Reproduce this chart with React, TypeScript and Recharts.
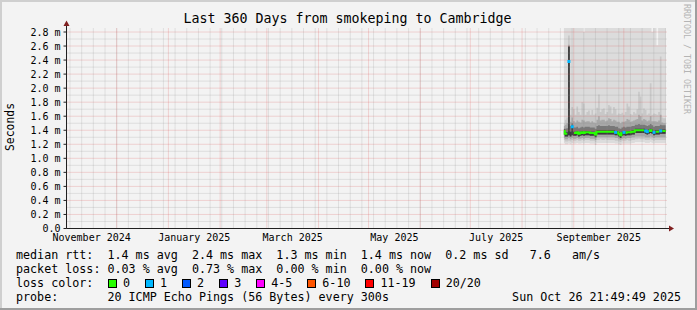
import { ComposedChart, Area, Line, Scatter, XAxis, YAxis, ReferenceLine } from 'recharts';

const DAY = 86400000;
const END = Date.UTC(2025, 9, 26, 21, 49, 49);
const START = END - 360 * DAY;
const Y_MAX = 2.857;
const FONT = "'DejaVu Sans Mono', monospace";

const X_LABELS = ['November 2024', 'January 2025', 'March 2025', 'May 2025', 'July 2025', 'September 2025'];
const X_LABEL_MONTHS = [[2024, 10], [2025, 0], [2025, 2], [2025, 4], [2025, 6], [2025, 8]];
const Y_TICKS = [0, 0.2, 0.4, 0.6, 0.8, 1.0, 1.2, 1.4, 1.6, 1.8, 2.0, 2.2, 2.4, 2.6, 2.8];

// first consolidated smokeping sample (one bin per day)
const FIRST_BIN = Date.UTC(2025, 7, 26, 2, 40);

const median = [
  1.39, 1.35, 1.35, 2.38, 1.35, 1.45, 1.36, 1.36, 1.37, 1.35,
  1.36, 1.37, 1.36, 1.37, 1.37, 1.37, 1.36, 1.36, 1.36, 1.34,
  1.38, 1.38, 1.38, 1.38, 1.38, 1.38, 1.38, 1.38, 1.38, 1.38,
  1.38, 1.37, 1.37, 1.35, 1.33, 1.36, 1.37, 1.36, 1.37, 1.37,
  1.37, 1.38, 1.38, 1.40, 1.40, 1.40, 1.40, 1.40, 1.40, 1.39,
  1.38, 1.39, 1.40, 1.39, 1.37, 1.38, 1.38, 1.38, 1.39, 1.39,
  1.39, 1.39,
];
const loss = [
  0, 0, 0, 1, 0, 1, 0, 0, 0, 0,
  0, 0, 0, 0, 0, 0, 0, 0, 0, 0,
  0, 0, 0, 0, 0, 0, 0, 0, 0, 0,
  0, 1, 0, 0, 0, 0, 1, 0, 0, 0,
  0, 0, 0, 0, 0, 0, 0, 0, 0, 1,
  1, 0, 0, 0, 1, 0, 0, 0, 1, 0,
  0, 0,
];
const smokeMax = [
  2.95, 2.95, 2.95, 2.95, 2.95, 2.95, 2.95, 2.95, 2.95, 2.95,
  2.95, 2.95, 2.80, 2.95, 2.95, 2.95, 2.95, 2.95, 2.95, 2.95,
  2.95, 2.95, 2.95, 2.95, 2.95, 2.95, 2.95, 2.95, 2.95, 2.95,
  2.95, 2.95, 2.95, 2.95, 2.95, 2.95, 2.95, 2.95, 2.95, 2.95,
  2.95, 2.95, 2.95, 2.95, 2.95, 2.95, 2.95, 2.95, 2.95, 2.95,
  2.95, 2.95, 2.95, 2.80, 2.95, 2.95, 2.61, 2.95, 2.95, 2.95,
  2.95, 2.95,
];
const smokeMin = [
  1.22, 1.20, 1.20, 1.21, 1.20, 1.22, 1.21, 1.21, 1.22, 1.21,
  1.21, 1.22, 1.21, 1.22, 1.22, 1.22, 1.21, 1.21, 1.21, 1.19,
  1.22, 1.22, 1.22, 1.22, 1.22, 1.22, 1.22, 1.22, 1.22, 1.22,
  1.22, 1.21, 1.21, 1.20, 1.19, 1.21, 1.21, 1.21, 1.21, 1.21,
  1.21, 1.22, 1.22, 1.23, 1.23, 1.23, 1.23, 1.23, 1.23, 1.22,
  1.22, 1.22, 1.23, 1.22, 1.21, 1.22, 1.22, 1.22, 1.22, 1.22,
  1.22, 1.22,
];
const smokeLowOuter = [
  1.26, 1.24, 1.24, 1.25, 1.24, 1.26, 1.25, 1.25, 1.26, 1.25,
  1.25, 1.26, 1.25, 1.26, 1.26, 1.26, 1.25, 1.25, 1.25, 1.23,
  1.26, 1.26, 1.27, 1.26, 1.26, 1.27, 1.26, 1.26, 1.26, 1.26,
  1.26, 1.25, 1.25, 1.24, 1.23, 1.25, 1.25, 1.25, 1.26, 1.25,
  1.25, 1.26, 1.26, 1.27, 1.27, 1.28, 1.27, 1.27, 1.27, 1.26,
  1.26, 1.26, 1.27, 1.26, 1.25, 1.26, 1.26, 1.26, 1.26, 1.26,
  1.26, 1.26,
];
const smokeLowMid = [
  1.29, 1.27, 1.27, 1.29, 1.27, 1.29, 1.28, 1.28, 1.29, 1.28,
  1.28, 1.29, 1.28, 1.29, 1.29, 1.29, 1.28, 1.28, 1.28, 1.26,
  1.30, 1.30, 1.30, 1.30, 1.30, 1.30, 1.30, 1.30, 1.30, 1.30,
  1.30, 1.29, 1.29, 1.27, 1.26, 1.28, 1.29, 1.28, 1.29, 1.29,
  1.29, 1.30, 1.30, 1.31, 1.31, 1.31, 1.31, 1.31, 1.31, 1.30,
  1.30, 1.30, 1.31, 1.30, 1.29, 1.30, 1.30, 1.30, 1.30, 1.30,
  1.30, 1.30,
];
const smokeLowInner = [
  1.34, 1.31, 1.31, 1.33, 1.31, 1.33, 1.32, 1.32, 1.33, 1.31,
  1.32, 1.33, 1.32, 1.33, 1.33, 1.33, 1.32, 1.32, 1.32, 1.30,
  1.34, 1.34, 1.34, 1.34, 1.34, 1.34, 1.34, 1.34, 1.34, 1.34,
  1.34, 1.33, 1.33, 1.31, 1.29, 1.32, 1.33, 1.32, 1.33, 1.33,
  1.33, 1.34, 1.34, 1.36, 1.36, 1.36, 1.36, 1.36, 1.36, 1.35,
  1.34, 1.35, 1.36, 1.35, 1.33, 1.34, 1.34, 1.34, 1.35, 1.35,
  1.35, 1.35,
];
const smokeCoreHigh = [
  1.41, 1.37, 1.37, 2.59, 1.38, 1.47, 1.38, 1.38, 1.39, 1.37,
  1.38, 1.39, 1.38, 1.39, 1.39, 1.39, 1.38, 1.38, 1.38, 1.36,
  1.40, 1.40, 1.40, 1.40, 1.40, 1.40, 1.40, 1.40, 1.40, 1.40,
  1.40, 1.39, 1.39, 1.37, 1.35, 1.38, 1.39, 1.38, 1.39, 1.39,
  1.39, 1.40, 1.40, 1.42, 1.42, 1.42, 1.42, 1.42, 1.42, 1.41,
  1.40, 1.41, 1.42, 1.41, 1.39, 1.40, 1.40, 1.40, 1.41, 1.41,
  1.41, 1.41,
];
const smokeHighInner = [
  1.42, 1.42, 1.43, 2.60, 1.46, 1.50, 1.44, 1.44, 1.45, 1.43,
  1.44, 1.45, 1.44, 1.45, 1.45, 1.45, 1.44, 1.44, 1.44, 1.42,
  1.46, 1.47, 1.46, 1.46, 1.46, 1.46, 1.46, 1.47, 1.46, 1.46,
  1.46, 1.45, 1.45, 1.43, 1.42, 1.44, 1.45, 1.44, 1.45, 1.45,
  1.45, 1.46, 1.46, 1.48, 1.48, 1.49, 1.48, 1.48, 1.48, 1.47,
  1.46, 1.47, 1.49, 1.47, 1.45, 1.46, 1.46, 1.46, 1.48, 1.47,
  1.47, 1.47,
];
const smokeHighMid = [
  1.46, 1.48, 1.50, 2.62, 1.52, 1.58, 1.53, 1.51, 1.54, 1.52,
  1.51, 1.55, 1.54, 1.52, 1.53, 1.53, 1.51, 1.53, 1.51, 1.50,
  1.55, 1.60, 1.54, 1.55, 1.55, 1.53, 1.54, 1.57, 1.56, 1.53,
  1.55, 1.54, 1.52, 1.52, 1.50, 1.52, 1.52, 1.53, 1.56, 1.55,
  1.52, 1.53, 1.54, 1.55, 1.56, 1.62, 1.60, 1.54, 1.56, 1.55,
  1.53, 1.54, 1.60, 1.53, 1.53, 1.53, 1.52, 1.54, 1.62, 1.51,
  1.50, 1.50,
];
const smokeHighOuter = [
  1.50, 1.55, 1.58, 2.75, 1.62, 1.73, 1.70, 1.62, 1.74, 1.66,
  1.62, 1.80, 1.78, 1.62, 1.66, 1.68, 1.62, 1.69, 1.62, 1.64,
  1.72, 1.91, 1.66, 1.70, 1.71, 1.63, 1.66, 1.76, 1.74, 1.64,
  1.73, 1.70, 1.62, 1.64, 1.63, 1.65, 1.62, 1.66, 1.78, 1.74,
  1.63, 1.62, 1.66, 1.64, 1.70, 1.95, 1.88, 1.64, 1.71, 1.69,
  1.62, 1.64, 2.07, 1.62, 1.64, 1.63, 1.62, 1.66, 2.45, 1.58,
  1.57, 1.57,
];

const LOSS_LEGEND = ['0', '1', '2', '3', '4-5', '6-10', '11-19', '20/20'];
const LOSS_COLORS = ['#26ff00', '#00b8ff', '#0059ff', '#5e00ff', '#ff00ff', '#ff5500', '#ff0000', '#a10000'];

const data = median.map((m, i) => ({
  t: FIRST_BIN + i * DAY,
  bandA: [smokeMin[i], smokeMax[i]],
  bandB: [smokeLowOuter[i], smokeHighOuter[i]],
  bandC: [smokeLowMid[i], smokeHighMid[i]],
  bandD: [smokeLowInner[i], smokeHighInner[i]],
  bandE: [smokeLowInner[i], smokeCoreHigh[i]],
  medianOk: loss[i] === 0 ? m : null,
  median: m,
  loss: loss[i],
}));
const lossPoints = data.filter(d => d.loss > 0);

const labelTicks = X_LABEL_MONTHS.map(([y, m]) => (Date.UTC(y, m, 1) + Date.UTC(y, m + 1, 1)) / 2);

// grid: month starts (red), sundays (grey)
const monthLines: number[] = [];
for (let m = 10; m < 22; m++) monthLines.push(Date.UTC(2024, m, 1));
const weekLines: number[] = [];
for (let t = Date.UTC(2024, 10, 3); t < END; t += 7 * DAY) weekLines.push(t);
const minorY: number[] = [];
for (let k = 1; k <= 28; k += 2) minorY.push(k / 10);

const MGRID = 'rgba(222,80,80,0.42)';
const GRID = 'rgba(143,143,143,0.4)';

const LossBox = (props: any) => {
  const { cx, cy } = props;
  return <rect x={cx - 1.5} y={cy - 1.5} width={3} height={3} fill="#00b8ff" />;
};

const band = (key: string, fill: string) => (
  <Area dataKey={key} type="step" stroke="none" fill={fill} fillOpacity={1} isAnimationActive={false} dot={false} activeDot={false} />
);

export default function App() {
  return (
    <div style={{ position: 'absolute', left: 0, top: 0, width: 697, height: 310, background: '#f3f3f3', fontFamily: FONT, color: '#000', overflow: 'hidden' }}>
      <div style={{ position: 'absolute', left: 0, top: 0, width: 697, height: 2, background: '#cfcfcf' }} />
      <div style={{ position: 'absolute', left: 0, top: 0, width: 2, height: 310, background: '#cfcfcf' }} />
      <div style={{ position: 'absolute', left: 0, top: 308, width: 697, height: 2, background: '#9e9e9e' }} />
      <div style={{ position: 'absolute', left: 695, top: 0, width: 2, height: 310, background: '#9e9e9e' }} />

      <div style={{ position: 'absolute', left: 0, top: 11, width: 695, textAlign: 'center', fontSize: 13.3, lineHeight: '16px', whiteSpace: 'pre' }}>
        Last 360 Days from smokeping to Cambridge
      </div>
      <div style={{ position: 'absolute', left: 682, top: 4, writingMode: 'vertical-rl', fontSize: 8.3, color: '#b4b4b4', whiteSpace: 'pre', lineHeight: '10px' }}>
        RRDTOOL / TOBI OETIKER
      </div>
      <div style={{ position: 'absolute', left: 10, top: 127, transform: 'translate(-50%, -50%) rotate(-90deg)', fontSize: 11.4, whiteSpace: 'pre' }}>
        Seconds
      </div>

      <div style={{ position: 'absolute', left: 0, top: 0 }}>
        <ComposedChart width={697} height={310} data={data} margin={{ top: 28, right: 30, left: 0, bottom: 51.5 }}>
          <XAxis
            dataKey="t"
            type="number"
            domain={[START, END]}
            allowDataOverflow
            ticks={labelTicks}
            interval={0}
            height={30}
            tickSize={0}
            tickMargin={9}
            axisLine={{ stroke: '#202020' }}
            tickLine={false}
            tick={({ x, y, payload }: any) => (
              <text x={x} y={y} textAnchor="middle" dominantBaseline="central" fontFamily={FONT} fontSize={10} fill="#000">
                {X_LABELS[labelTicks.indexOf(payload.value)]}
              </text>
            )}
          />
          <YAxis
            type="number"
            width={66.5}
            domain={[0, Y_MAX]}
            allowDataOverflow
            ticks={Y_TICKS}
            interval={0}
            tickSize={3}
            tickMargin={3}
            axisLine={{ stroke: '#202020' }}
            tickLine={{ stroke: '#202020' }}
            tick={({ x, y, payload }: any) => (
              <text x={x} y={y} textAnchor="end" dominantBaseline="central" fontFamily={FONT} fontSize={10} fill="#000">
                {payload.value === 0 ? '0.0' : `${payload.value.toFixed(1)} m`}
              </text>
            )}
          />
          {band('bandA', '#dcdcdc')}
          {band('bandB', '#c8c8c8')}
          {band('bandC', '#a8a8a8')}
          {band('bandD', '#787878')}
          {band('bandE', '#3c3c3c')}

          {weekLines.map(t => (
            <ReferenceLine key={`w${t}`} x={t} stroke={GRID} strokeDasharray="1 1" />
          ))}
          {minorY.map(v => (
            <ReferenceLine key={`h${v}`} y={v} stroke={GRID} strokeDasharray="1 1" />
          ))}
          {monthLines.map(t => (
            <ReferenceLine key={`m${t}`} x={t} stroke={MGRID} strokeDasharray="1 1" />
          ))}
          {Y_TICKS.slice(1).map(v => (
            <ReferenceLine key={`M${v}`} y={v} stroke={MGRID} strokeDasharray="1 1" />
          ))}

          <Line dataKey="medianOk" type="step" stroke="#26ff00" strokeWidth={2} dot={false} activeDot={false} connectNulls={false} isAnimationActive={false} />
          <Scatter data={lossPoints} dataKey="median" shape={LossBox} isAnimationActive={false} />
        </ComposedChart>
      </div>

      <svg width={697} height={310} style={{ position: 'absolute', left: 0, top: 0, pointerEvents: 'none' }}>
        <line x1={66.5} y1={28} x2={66.5} y2={24} stroke="#202020" />
        <polygon points="63.5,26 66.5,20.5 69.5,26" fill="#802020" />
        <line x1={667} y1={228.5} x2={670} y2={228.5} stroke="#202020" />
        <polygon points="669,225.5 674,228.5 669,231.5" fill="#802020" />
      </svg>

      <div style={{ position: 'absolute', left: 16, top: 248, fontSize: 11.7, lineHeight: '14px', whiteSpace: 'pre' }}>
        {'median rtt:  1.4 ms avg  2.4 ms max  1.3 ms min  1.4 ms now  0.2 ms sd   7.6   am/s'}
      </div>
      <div style={{ position: 'absolute', left: 16, top: 262, fontSize: 11.7, lineHeight: '14px', whiteSpace: 'pre' }}>
        {'packet loss: 0.03 % avg  0.73 % max  0.00 % min  0.00 % now'}
      </div>
      <div style={{ position: 'absolute', left: 16, top: 276, fontSize: 11.7, lineHeight: '14px', whiteSpace: 'pre' }}>
        {'loss color:'}
      </div>
      <div style={{ position: 'absolute', left: 108, top: 276, height: 14, display: 'flex', alignItems: 'center', fontSize: 11.7, lineHeight: '14px', whiteSpace: 'pre' }}>
        {LOSS_LEGEND.map((label, i) => (
          <div key={label} style={{ display: 'flex', alignItems: 'center', marginRight: 15 }}>
            <div style={{ width: 7, height: 7, background: LOSS_COLORS[i], border: '1px solid #000' }} />
            <span style={{ marginLeft: 6 }}>{label}</span>
          </div>
        ))}
      </div>
      <div style={{ position: 'absolute', left: 16, top: 290, fontSize: 11.7, lineHeight: '14px', whiteSpace: 'pre' }}>
        {'probe:       20 ICMP Echo Pings (56 Bytes) every 300s'}
      </div>
      <div style={{ position: 'absolute', right: 16, top: 290, fontSize: 11.7, lineHeight: '14px', whiteSpace: 'pre' }}>
        Sun Oct 26 21:49:49 2025
      </div>
    </div>
  );
}
